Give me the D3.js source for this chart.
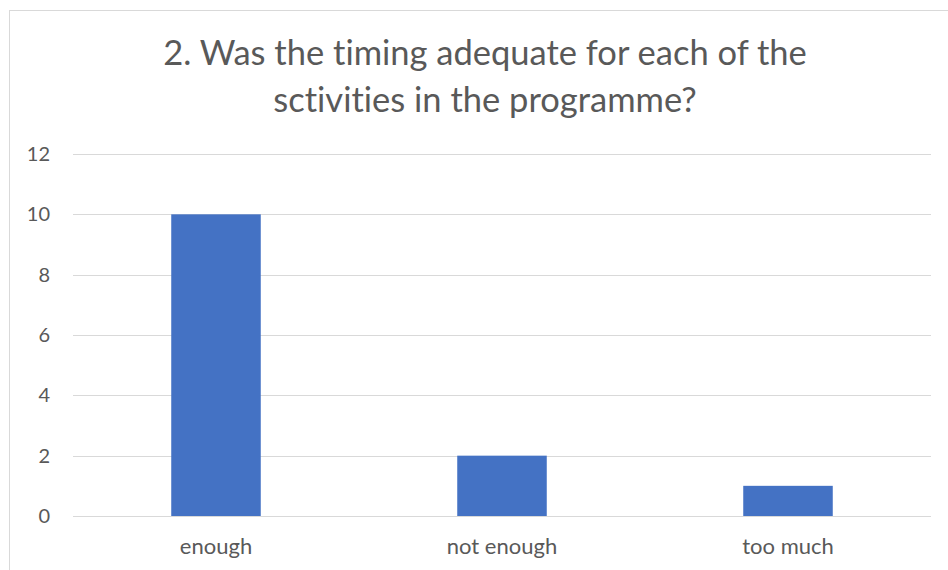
<!DOCTYPE html>
<html>
<head>
<meta charset="utf-8">
<script src="https://cdn.jsdelivr.net/npm/d3@7"></script>
<style>
  html, body { margin: 0; padding: 0; background: #fff; }
  svg { display: block; font-family: Lato, "Open Sans", sans-serif; font-variant-ligatures: none; font-feature-settings: "liga" 0, "clig" 0; }
</style>
</head>
<body>
<svg id="chart" width="948" height="570"></svg>
<script>
const titleLines = ["2. Was the timing adequate for each of the", "sctivities in the programme?"];
const categories = ["enough", "not enough", "too much"];
const values = [10, 2, 1];
const yTicks = [0, 2, 4, 6, 8, 10, 12];

const svg = d3.select("#chart");
const W = 948, H = 570;
const margin = { left: 73, right: 17, top: 154, bottom: 54 };

// chart border
svg.append("rect")
  .attr("x", 9.5).attr("y", 10.5)
  .attr("width", 960).attr("height", 600)
  .attr("fill", "#fff").attr("stroke", "#d9d9d9").attr("stroke-width", 1);

const x = d3.scaleBand()
  .domain(categories)
  .range([margin.left, W - margin.right])
  .paddingInner(0.687)
  .paddingOuter(0.3435);

const y = d3.scaleLinear()
  .domain([0, 12])
  .range([H - margin.bottom, margin.top]);

// gridlines
svg.append("g")
  .selectAll("line")
  .data(yTicks)
  .join("line")
  .attr("x1", margin.left).attr("x2", W - margin.right)
  .attr("y1", d => Math.round(y(d)) + 0.5).attr("y2", d => Math.round(y(d)) + 0.5)
  .attr("stroke", "#d9d9d9").attr("stroke-width", 1);

// y axis labels
const yAxis = d3.axisLeft(y).tickValues(yTicks).tickSize(0).tickPadding(0);
const gy = svg.append("g").attr("transform", `translate(50,0)`).call(yAxis);
gy.select(".domain").remove();
gy.selectAll("text")
  .attr("fill", "#595959")
  .style("font-size", "20px")
  .style("font-family", "Lato, sans-serif");

// bars
svg.append("g")
  .selectAll("rect")
  .data(categories)
  .join("rect")
  .attr("x", d => x(d))
  .attr("width", x.bandwidth())
  .attr("y", (d, i) => y(values[i]))
  .attr("height", (d, i) => y(0) - y(values[i]))
  .attr("fill", "#4472c4");

// x axis labels
const xAxis = d3.axisBottom(x).tickSize(0).tickPadding(0);
const gx = svg.append("g").attr("transform", `translate(0,${y(0)})`).call(xAxis);
gx.select(".domain").remove();
gx.selectAll("text")
  .attr("fill", "#595959")
  .attr("dy", null)
  .attr("y", 38)
  .style("font-size", "22px")
  .style("font-family", "Lato, sans-serif");

// title
svg.append("text")
  .attr("x", 485)
  .attr("y", 65)
  .attr("text-anchor", "middle")
  .attr("fill", "#595959")
  .style("font-size", "34.5px")
  .selectAll("tspan")
  .data(titleLines)
  .join("tspan")
  .attr("x", 485)
  .attr("dy", (d, i) => i === 0 ? 0 : 47)
  .text(d => d);
</script>
</body>
</html>
